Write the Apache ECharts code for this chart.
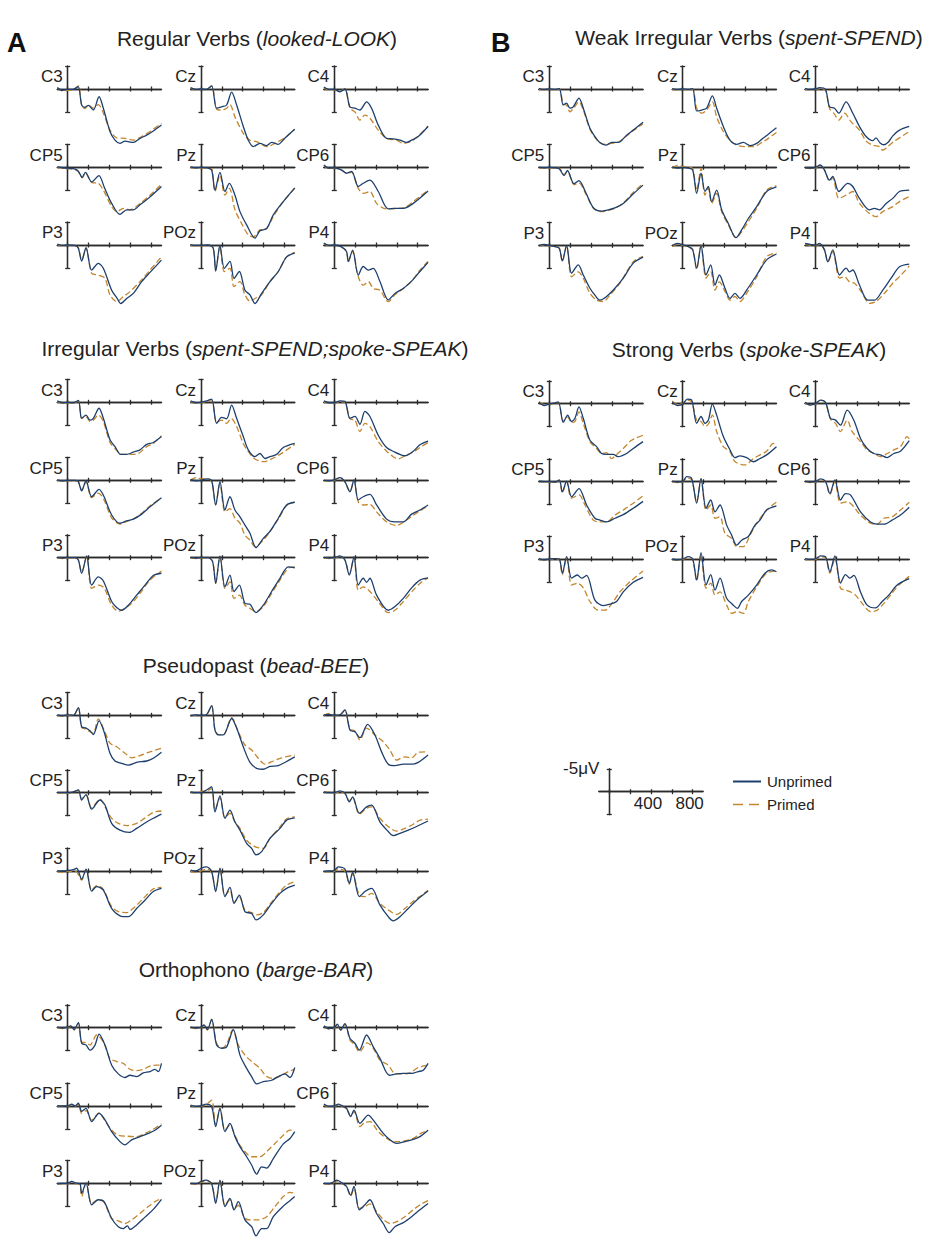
<!DOCTYPE html>
<html><head><meta charset="utf-8">
<script src="https://cdn.jsdelivr.net/npm/echarts@6/dist/echarts.min.js"></script>
<style>html,body{margin:0;padding:0;background:#fff}#chart{width:932px;height:1237px}</style>
</head><body><div id="chart"></div>
<script>
// ---------- tick labels / categories ----------
var TIME_TICKS = [0, 200, 400, 600, 800];
var SCALE_TIME_LABELS = [400, 800];
var SCALE_VOLT_LABELS = [-5];
var VOLT_TICKS = [-5, 5];
var ELECTRODES = ['C3', 'Cz', 'C4', 'CP5', 'Pz', 'CP6', 'P3', 'POz', 'P4'];
var CONDITIONS = ['Unprimed', 'Primed'];
var PANEL_KEYS = ['reg', 'weak', 'irr', 'str', 'ps', 'or'];
var PANEL_TITLES = [
  ['Regular Verbs (', 'looked-LOOK', ')'],
  ['Weak Irregular Verbs (', 'spent-SPEND', ')'],
  ['Irregular Verbs (', 'spent-SPEND;spoke-SPEAK', ')'],
  ['Strong Verbs (', 'spoke-SPEAK', ')'],
  ['Pseudopast (', 'bead-BEE', ')'],
  ['Orthophono (', 'barge-BAR', ')']
];

// ---------- waveform data: [ms, µV] ----------
var reg_C3_u=[[-100,-0.3],[-50,0.3],[0,0.1],[50,0.1],[100,-0.5],[134,3.5],[166,4.0],[198,3.6],[246,4.6],[301,1.7],[342,4.2],[406,9.3],[454,11.2],[502,11.9],[550,11.4],[630,11.7],[694,10.8],[758,10.1],[822,9.2],[900,7.9]];
var reg_C3_p=[[-100,-0.2],[-50,0.4],[0,0.3],[50,0.2],[102,-0.7],[134,3.5],[166,4.3],[198,3.5],[246,4.2],[294,3.4],[342,5.3],[406,9.0],[470,10.7],[550,10.8],[630,11.2],[710,10.4],[790,9.3],[900,7.5]];
var reg_Cz_u=[[-100,-0.3],[-50,0.1],[0,0],[50,0.1],[102,-0.7],[150,4.2],[198,3.9],[246,3.5],[294,0.7],[342,3.5],[406,8.2],[454,11.2],[502,12.6],[566,11.9],[630,12.4],[678,11.7],[742,12.1],[806,10.7],[900,8.8]];
var reg_Cz_p=[[-100,-0.2],[-50,0.2],[0,0.1],[50,0.2],[102,-0.7],[150,4.4],[198,4.6],[246,4.2],[278,3.4],[326,6.1],[406,9.7],[470,11.2],[534,11.5],[630,12.6],[726,11.7],[822,10.4],[900,8.8]];
var reg_C4_u=[[-100,-0.4],[-50,0.1],[0,0.1],[54,0.6],[102,0],[150,3.9],[198,4.2],[246,4.6],[310,2.8],[358,4.2],[422,7.9],[502,10.8],[566,10.9],[630,11.2],[694,11.7],[742,11.2],[806,10.4],[900,8.2]];
var reg_C4_p=[[-100,-0.2],[-50,0.2],[0,0.2],[54,0.5],[102,-0.1],[150,4.2],[198,5.0],[246,6.8],[294,5.7],[342,6.4],[422,9.0],[502,10.8],[598,11.2],[662,11.9],[758,11.2],[900,8.1]];
var reg_CP5_u=[[-100,-0.1],[-50,0.1],[0,0.2],[70,0.4],[100,0.8],[140,2.2],[170,1.1],[230,3.2],[300,1.8],[350,4.3],[422,7.9],[502,10.3],[566,9.3],[630,9.3],[694,8.2],[774,6.8],[900,4.2]];
var reg_CP5_p=[[-100,0],[-50,0.2],[0,0.3],[70,0.5],[100,0.9],[140,2.3],[170,1.2],[230,3.3],[294,3.5],[342,5.0],[422,8.6],[470,9.7],[534,9.0],[598,9.3],[694,7.9],[790,6.1],[900,3.7]];
var reg_Pz_u=[[-100,-0.1],[-50,0.1],[0,0],[60,0.1],[102,0.6],[134,5.0],[182,1.1],[230,5.3],[272,3.5],[326,6.1],[374,9.7],[438,12.6],[518,15.5],[566,13.9],[630,13.4],[694,10.4],[790,7.5],[900,4.5]];
var reg_Pz_p=[[-100,0],[-50,0.2],[0,0.1],[60,0.2],[102,0.3],[134,5.3],[182,1.7],[230,6.1],[272,4.6],[326,9.3],[390,12.3],[454,14.8],[502,15.2],[566,13.7],[630,13.4],[694,10.8],[790,7.5],[900,4.6]];
var reg_CP6_u=[[-100,-0.5],[-50,0.2],[0,0.1],[70,0.6],[118,1.3],[166,0.9],[230,4.2],[278,3.5],[342,2.8],[422,5.3],[518,9.1],[582,9.0],[662,9.0],[758,7.9],[900,5.2]];
var reg_CP6_p=[[-100,-0.4],[-50,0.3],[0,0.2],[70,0.6],[118,1.3],[166,1.1],[230,4.6],[278,5.7],[342,5.3],[406,7.9],[502,9.1],[598,9.0],[678,8.8],[758,7.5],[900,5.0]];
var reg_P3_u=[[-100,-0.2],[-50,0.1],[0,0],[70,0.1],[102,0.7],[134,3.5],[176,0.6],[230,5.5],[294,4.0],[342,5.1],[422,9.9],[470,11.5],[509,12.8],[566,11.7],[630,10.6],[710,8.0],[790,6.0],[900,3.3]];
var reg_P3_p=[[-100,-0.1],[-50,0.2],[0,0.1],[70,0.2],[102,0.6],[134,3.3],[176,0.7],[230,6.2],[294,6.6],[358,7.3],[406,10.9],[470,12.4],[534,11.3],[598,10.2],[694,8.0],[790,5.5],[900,2.6]];
var reg_POz_u=[[-100,-0.1],[-50,0.1],[0,0.1],[70,0],[118,0.7],[141,5.7],[182,0.1],[224,5.1],[278,3.6],[317,7.3],[368,5.8],[422,9.9],[470,10.9],[518,12.8],[582,10.6],[662,8.0],[742,5.8],[822,2.6],[900,1.8]];
var reg_POz_p=[[-100,0],[-50,0.2],[0,0.2],[70,0.1],[118,0.7],[141,5.5],[182,0.4],[224,5.8],[278,5.1],[317,9.1],[374,8.0],[422,10.9],[470,12.3],[518,11.7],[582,10.9],[662,8.0],[742,5.8],[822,2.6],[900,1.6]];
var reg_P4_u=[[-100,-0.4],[-50,0.1],[0,0],[70,0.4],[118,1.5],[134,3.6],[176,1.1],[230,6.6],[278,4.7],[326,5.5],[374,5.1],[438,8.0],[518,12.0],[582,10.6],[662,9.5],[742,7.9],[822,5.8],[900,3.8]];
var reg_P4_p=[[-100,-0.3],[-50,0.2],[0,0.1],[70,0.5],[118,1.5],[134,3.7],[176,1.4],[230,6.9],[278,8.8],[326,8.0],[374,9.5],[438,9.9],[518,12.4],[582,10.9],[662,9.5],[742,7.9],[822,5.5],[900,3.6]];

var weak_C3_u=[[-100,-0.1],[-50,0.1],[0,0],[54,0.1],[96,-0.1],[134,3.5],[166,3.1],[198,4.2],[230,3.9],[285,2.0],[326,4.2],[390,8.6],[438,10.4],[486,11.7],[544,12.3],[598,11.7],[662,11.7],[742,10.1],[806,9.0],[900,7.3]];
var weak_C3_p=[[-100,0],[-50,0.2],[0,0.1],[54,0.2],[96,0],[134,3.3],[166,3.5],[198,5.0],[230,4.3],[285,2.8],[326,4.6],[390,8.8],[438,10.6],[486,11.8],[544,12.1],[598,11.9],[662,11.6],[742,10.3],[806,9.1],[900,7.6]];
var weak_Cz_u=[[-100,-0.1],[-50,0.1],[0,0],[54,0.1],[96,-0.1],[134,4.8],[182,4.6],[230,4.2],[285,1.5],[326,4.2],[390,8.2],[454,11.2],[518,12.1],[582,11.7],[646,12.4],[710,11.9],[774,10.7],[822,9.9],[900,8.5]];
var weak_Cz_p=[[-100,0],[-50,0.2],[0,0.1],[54,0.2],[96,0.1],[134,4.2],[182,5.3],[230,4.6],[285,2.8],[326,6.1],[390,9.3],[454,11.2],[518,12.3],[598,12.6],[678,12.6],[774,11.5],[822,10.8],[900,9.5]];
var weak_C4_u=[[-100,-0.1],[-50,0.1],[0,0],[38,-0.3],[96,0.1],[134,3.9],[182,4.2],[224,5.3],[294,2.8],[358,5.3],[422,8.2],[486,10.4],[550,11.3],[580,10.7],[620,11.8],[655,12.2],[700,11.6],[740,10.3],[806,9.0],[900,8.2]];
var weak_C4_p=[[-100,0],[-50,0.2],[0,0.1],[38,-0.1],[96,0.3],[134,4.2],[182,5.5],[224,6.8],[278,5.3],[342,7.2],[422,9.0],[486,11.4],[550,12.3],[614,12.6],[646,13.4],[694,12.6],[758,11.4],[900,9.3]];
var weak_CP5_u=[[-100,0],[-50,0.1],[0,0],[50,0.1],[95,0.3],[142,1.8],[174,0.7],[237,3.6],[284,2.9],[350,5.5],[425,8.9],[504,9.6],[550,9.4],[630,8.9],[710,7.9],[806,5.8],[900,3.9]];
var weak_CP5_p=[[-100,0.1],[-50,0.2],[0,0.1],[50,0.2],[95,0.2],[142,1.6],[174,0.9],[237,3.8],[284,3.4],[350,5.8],[425,9.0],[504,9.7],[550,9.5],[630,9.0],[710,7.8],[806,5.5],[900,3.6]];
var weak_Pz_u=[[-100,-0.1],[-50,0.2],[0,0],[54,0.2],[96,0.6],[134,5.7],[176,1.3],[214,5.3],[246,4.2],[278,7.5],[326,5.0],[374,9.3],[438,12.3],[512,15.4],[566,13.7],[630,11.2],[710,8.6],[806,5.3],[900,4.3]];
var weak_Pz_p=[[-100,0.2],[-50,-0.4],[0,-0.2],[54,0],[96,0.3],[134,5.0],[176,0.2],[214,6.1],[246,4.6],[278,7.9],[326,5.7],[374,9.7],[438,12.6],[512,15.4],[566,14.1],[630,11.9],[710,9.0],[806,5.0],[900,4.0]];
var weak_CP6_u=[[-100,0.1],[-50,0.2],[0,0],[45,-0.5],[86,0.6],[134,2.8],[166,2.0],[224,5.3],[310,3.5],[358,4.2],[422,6.8],[518,9.3],[566,9.0],[614,9.3],[678,7.9],[742,6.8],[806,5.3],[900,5.0]];
var weak_CP6_p=[[-100,0.2],[-50,0.3],[0,0.1],[45,-0.4],[86,0.5],[134,3.0],[166,2.3],[224,6.8],[294,6.1],[358,5.3],[422,7.9],[518,10.1],[582,10.8],[646,9.7],[742,8.6],[806,7.5],[900,6.4]];
var weak_P3_u=[[-100,0.1],[-50,-0.2],[0,0],[54,0.3],[96,0.7],[125,3.4],[166,0],[214,6.1],[278,4.3],[326,6.5],[390,9.4],[438,10.9],[486,12.0],[550,11.2],[630,9.4],[710,7.2],[806,3.9],[900,2.6]];
var weak_P3_p=[[-100,0.2],[-50,-0.1],[0,0.1],[54,0.3],[96,0.6],[125,3.5],[166,0.1],[214,6.9],[278,5.8],[326,7.2],[390,10.5],[454,12.0],[518,12.3],[582,10.9],[678,8.3],[806,3.6],[900,2.4]];
var weak_POz_u=[[-100,0.1],[-50,-0.4],[0,-0.1],[54,0.3],[96,1.0],[134,5.0],[176,0.1],[224,6.5],[269,4.3],[310,8.7],[352,6.5],[406,9.4],[454,11.6],[502,10.5],[550,11.6],[614,9.8],[710,6.5],[806,3.2],[900,1.9]];
var weak_POz_p=[[-100,0.3],[-50,-0.2],[0,0],[54,0.3],[96,0.8],[134,5.3],[176,0.1],[224,7.2],[269,5.8],[310,9.8],[352,8.0],[406,10.1],[454,12.0],[502,11.2],[550,12.3],[614,10.5],[710,6.9],[806,2.5],[900,1.6]];
var weak_P4_u=[[-100,-0.4],[-50,-0.2],[0,0],[38,-0.4],[86,1.0],[118,3.6],[166,1.0],[230,6.5],[294,5.0],[326,5.8],[358,5.4],[422,8.7],[502,12.0],[566,12.0],[646,9.8],[726,7.2],[806,4.7],[900,4.1]];
var weak_P4_p=[[-100,-0.2],[-50,0],[0,0.1],[38,-0.2],[86,1.0],[118,3.7],[166,1.4],[230,7.2],[278,6.9],[326,8.0],[374,8.3],[438,10.1],[518,12.7],[582,12.3],[662,10.5],[742,8.3],[822,6.5],[900,4.5]];

var irr_C3_u=[[-100,-0.3],[-50,0.1],[0,0],[54,0.1],[102,-0.4],[134,3.5],[176,2.8],[214,3.9],[246,3.5],[301,1.3],[342,3.5],[406,8.2],[454,9.7],[509,11.4],[566,11.4],[630,10.9],[694,10.4],[758,9.2],[822,8.8],[900,7.5]];
var irr_C3_p=[[-100,-0.1],[-50,0.2],[0,0.1],[54,0.2],[102,-0.3],[134,3.5],[176,3.1],[214,4.2],[246,3.9],[294,2.8],[342,4.2],[406,8.8],[454,10.1],[518,11.4],[598,11.4],[678,11.2],[758,9.7],[822,9.0],[900,7.3]];
var irr_Cz_u=[[-100,-0.3],[-50,0.1],[0,0],[54,-0.3],[102,-0.7],[150,4.6],[198,3.3],[246,3.6],[294,0.6],[342,3.5],[406,7.5],[454,10.4],[518,11.9],[566,11.2],[614,12.3],[662,11.9],[726,11.4],[790,9.9],[900,9.0]];
var irr_Cz_p=[[-100,-0.1],[-50,0.2],[0,0.1],[54,-0.2],[102,-0.3],[150,4.4],[198,3.9],[246,4.6],[288,3.5],[342,5.3],[406,9.0],[454,10.8],[518,12.4],[598,13.0],[678,12.4],[758,11.4],[900,9.2]];
var irr_C4_u=[[-100,-0.3],[-50,0.1],[0,0.1],[54,-0.3],[102,-0.2],[150,3.5],[198,3.1],[246,4.8],[294,2.0],[342,3.1],[422,7.2],[502,9.9],[582,10.9],[630,11.4],[678,11.7],[758,10.7],[822,9.3],[900,8.5]];
var irr_C4_p=[[-100,-0.1],[-50,0.2],[0,0.2],[54,-0.1],[102,0],[150,3.6],[198,3.9],[246,6.4],[294,4.6],[342,5.3],[422,8.6],[502,10.7],[566,11.9],[614,12.4],[678,11.7],[758,10.9],[822,9.9],[900,8.8]];
var irr_CP5_u=[[-100,-0.1],[-50,0.1],[0,0],[70,0],[102,0.3],[134,2.3],[176,0.1],[230,3.6],[301,2.0],[349,3.6],[422,7.6],[502,9.4],[566,8.9],[630,8.5],[710,7.4],[790,5.8],[900,3.8]];
var irr_CP5_p=[[-100,0],[-50,0.2],[0,0.1],[70,0.1],[102,0.3],[134,2.1],[176,0.4],[230,3.8],[294,2.8],[349,4.3],[422,8.2],[502,9.6],[566,9.0],[630,8.5],[710,7.2],[790,5.6],[900,3.8]];
var irr_Pz_u=[[-100,-0.2],[-50,0.1],[0,0],[54,-0.3],[102,0.1],[141,5.4],[182,0.3],[230,6.5],[278,3.6],[326,6.5],[374,8.0],[422,9.8],[470,11.6],[528,14.7],[598,12.7],[662,11.2],[742,8.3],[822,5.4],[900,4.8]];
var irr_Pz_p=[[-100,0],[-50,-0.6],[0,-0.3],[54,-0.4],[102,0.2],[141,5.3],[182,0.7],[230,6.9],[278,6.2],[326,8.3],[374,9.4],[422,12.0],[470,13.1],[518,14.5],[598,13.1],[662,11.2],[742,8.5],[822,5.5],[900,4.8]];
var irr_CP6_u=[[-100,0],[-50,0.1],[0,-0.1],[54,-0.6],[102,0.3],[150,2.5],[189,-0.1],[230,4.3],[278,3.6],[342,3.1],[406,5.4],[502,8.5],[582,9.1],[662,9.1],[742,7.4],[822,6.5],[900,5.4]];
var irr_CP6_p=[[-100,0.1],[-50,0.2],[0,0],[54,-0.5],[102,0.4],[150,2.5],[189,0.1],[230,4.7],[278,5.4],[342,5.3],[406,6.9],[502,9.1],[598,9.9],[662,9.2],[742,7.9],[822,6.7],[900,5.6]];
var irr_P3_u=[[-100,0],[-50,0.1],[0,0],[70,0],[102,0.5],[134,3.4],[182,-0.4],[230,6.0],[294,4.2],[342,5.1],[422,9.6],[470,10.9],[518,11.5],[582,10.4],[662,8.2],[742,6.0],[822,3.9],[900,3.4]];
var irr_P3_p=[[-100,0.1],[-50,0.2],[0,0.1],[70,0.1],[102,0.5],[134,3.2],[182,-0.2],[230,6.7],[294,6.0],[349,6.6],[422,10.4],[486,11.7],[550,11.1],[614,10.0],[694,7.8],[790,4.9],[900,2.9]];
var irr_POz_u=[[-100,0],[-50,0.1],[0,0],[70,0],[112,0.9],[141,5.6],[182,-0.4],[230,6.4],[278,3.8],[317,7.4],[368,6.0],[422,10.0],[470,10.2],[528,12.0],[598,10.4],[678,7.4],[758,4.5],[838,2.0],[900,2.2]];
var irr_POz_p=[[-100,0.1],[-50,0.2],[0,0.1],[70,0.1],[112,0.8],[141,5.6],[182,-0.2],[230,6.7],[278,5.3],[317,8.9],[368,8.2],[422,10.4],[470,11.1],[528,11.8],[598,10.7],[678,7.8],[758,4.9],[838,2.3],[900,2.0]];
var irr_P4_u=[[-100,0],[-50,0.1],[0,0],[54,-0.4],[102,0.5],[144,3.8],[189,-0.2],[230,6.0],[278,4.5],[310,5.4],[342,4.5],[406,8.2],[518,11.5],[582,10.7],[662,8.9],[742,6.6],[822,4.9],[900,4.4]];
var irr_P4_p=[[-100,0.1],[-50,0.2],[0,0.1],[54,-0.3],[102,0.5],[144,3.6],[189,0],[230,7.1],[278,6.4],[342,7.4],[422,9.6],[518,12.0],[582,11.5],[662,9.6],[758,7.1],[838,5.3],[900,4.5]];

var str_C3_u=[[-100,-0.3],[-50,0.4],[0,0.1],[40,-0.1],[86,-0.4],[134,4.1],[176,2.5],[214,3.9],[246,3.2],[285,0.7],[326,3.2],[390,8.0],[454,9.4],[502,10.9],[550,11.1],[614,11.1],[662,11.6],[742,10.9],[806,9.8],[900,8.3]];
var str_C3_p=[[-100,-0.5],[-50,0.2],[0,0.1],[40,0],[86,-0.3],[134,3.8],[176,2.9],[214,4.1],[246,3.9],[285,1.8],[326,4.3],[390,8.3],[454,9.8],[502,10.9],[550,10.7],[598,12.0],[646,11.1],[710,9.8],[790,8.0],[900,6.9]];
var str_Cz_u=[[-100,-0.4],[-50,0.4],[0,0.1],[45,-1.0],[86,-0.8],[134,4.3],[176,2.8],[214,4.3],[246,3.6],[285,0.1],[326,2.5],[390,7.2],[454,10.1],[502,11.8],[550,11.4],[614,11.8],[678,12.7],[742,12.0],[806,11.2],[900,9.4]];
var str_Cz_p=[[-100,-0.6],[-50,0.2],[0,0],[45,-0.8],[86,-0.4],[134,3.6],[176,3.9],[214,5.0],[246,4.5],[285,2.5],[326,6.1],[390,9.4],[454,10.5],[502,12.7],[598,13.4],[678,12.0],[742,11.2],[806,10.4],[870,8.7],[900,9.2]];
var str_C4_u=[[-100,-0.3],[-50,0.3],[0,0],[48,-0.8],[96,-0.3],[144,3.2],[192,3.6],[240,4.7],[304,1.4],[368,3.6],[432,7.6],[496,9.8],[560,10.9],[624,11.2],[688,11.8],[752,10.9],[816,10.4],[900,8.1]];
var str_C4_p=[[-100,-0.1],[-50,0.3],[0,0.1],[48,-0.8],[96,-0.2],[144,3.4],[192,4.3],[240,6.1],[304,3.6],[352,6.1],[432,8.3],[496,10.1],[560,10.9],[624,11.6],[688,10.9],[752,10.1],[816,9.4],[880,7.2],[900,7.7]];
var str_CP5_u=[[-100,-0.1],[-50,0],[0,0],[54,0.1],[96,-0.4],[125,2.2],[166,-0.1],[214,3.3],[285,1.5],[358,5.1],[438,8.0],[486,8.4],[550,8.8],[630,8.0],[710,7.2],[806,5.8],[900,4.3]];
var str_CP5_p=[[-100,0],[-50,0.1],[0,0.1],[54,0.1],[96,-0.3],[125,2.5],[166,0],[214,3.6],[285,2.9],[342,5.1],[422,8.4],[486,8.8],[550,8.8],[630,7.3],[710,6.2],[806,4.7],[900,3.1]];
var str_Pz_u=[[-100,-0.1],[-50,0.1],[0,0],[38,-1.1],[86,-0.7],[134,4.7],[176,-0.7],[224,5.8],[269,4.0],[310,6.6],[358,5.1],[422,9.5],[470,11.7],[518,13.9],[566,12.8],[630,12.0],[694,9.5],[742,8.4],[806,6.2],[900,5.3]];
var str_Pz_p=[[-100,0.1],[-50,0.2],[0,0.1],[38,-0.8],[86,-0.4],[134,4.4],[176,-0.4],[224,6.2],[269,5.1],[310,8.0],[358,7.7],[406,11.3],[470,12.4],[518,14.2],[582,14.2],[646,11.7],[710,9.1],[806,6.2],[900,4.5]];
var str_CP6_u=[[-100,-0.1],[-50,0.1],[0,0],[48,-0.6],[96,-0.1],[138,2.6],[186,-0.4],[240,4.0],[288,2.6],[336,2.9],[432,6.6],[528,8.8],[592,9.3],[656,9.3],[736,8.4],[816,7.3],[900,5.6]];
var str_CP6_p=[[-100,0],[-50,0.2],[0,0.1],[48,-0.5],[96,0],[138,2.8],[186,0],[240,4.7],[304,4.4],[352,5.1],[432,7.3],[528,9.1],[592,9.3],[656,8.0],[736,7.7],[816,6.2],[900,4.5]];
var str_P3_u=[[-100,-0.1],[-50,0.2],[0,0],[54,-0.1],[96,0],[125,3.1],[166,-0.5],[214,4.2],[269,3.5],[310,4.2],[358,3.6],[438,9.0],[518,10.2],[582,9.9],[646,9.3],[710,7.2],[806,5.1],[900,4.0]];
var str_P3_p=[[-100,0],[-50,0.3],[0,0.1],[54,0],[96,0.1],[125,3.4],[166,-0.3],[214,5.7],[269,5.3],[326,6.3],[390,9.3],[470,11.2],[534,11.2],[614,9.3],[678,7.2],[774,5.0],[900,2.6]];
var str_POz_u=[[-100,0],[-50,0.2],[0,0],[54,-0.5],[96,0],[134,4.6],[176,-1.4],[224,5.7],[269,3.4],[310,6.8],[358,4.2],[422,8.6],[486,10.1],[525,10.8],[566,9.3],[630,7.9],[710,5.7],[790,3.1],[854,2.4],[900,2.8]];
var str_POz_p=[[-100,0.1],[-50,0.3],[0,0.1],[54,-0.3],[96,0.1],[134,4.8],[176,-0.9],[224,6.4],[269,5.3],[310,7.9],[358,7.2],[422,10.1],[470,11.9],[525,11.5],[582,11.9],[630,9.3],[710,6.1],[806,3.1],[900,2.6]];
var str_P4_u=[[-100,-0.1],[-50,0.1],[0,0],[48,-0.7],[96,-0.5],[138,2.8],[186,-0.7],[240,5.3],[288,3.4],[330,4.2],[368,3.6],[432,7.2],[496,10.1],[576,10.7],[640,9.3],[704,7.9],[784,5.7],[900,4.3]];
var str_P4_p=[[-100,0],[-50,0.2],[0,0.1],[48,-0.5],[96,-0.3],[138,3.1],[186,-0.1],[240,6.4],[288,6.8],[336,7.2],[384,7.9],[448,9.7],[528,11.5],[592,11.2],[656,9.7],[720,7.9],[800,5.7],[900,3.8]];

var ps_C3_u=[[-100,-0.1],[-50,0.1],[0,-0.1],[54,0],[102,-1.7],[134,2.5],[176,2.8],[214,3.4],[246,4.2],[301,1.2],[349,3.6],[406,8.3],[454,10.0],[518,10.5],[582,10.9],[662,10.3],[758,10.0],[822,9.4],[900,8.1]];
var ps_C3_p=[[-100,0],[-50,0.2],[0,0],[54,0.1],[102,-1.7],[134,2.7],[176,3.0],[214,3.6],[246,3.9],[294,0.8],[349,3.2],[406,6.1],[470,6.9],[550,8.3],[614,9.3],[694,8.8],[774,8.1],[900,7.2]];
var ps_Cz_u=[[-100,0.1],[-50,-0.1],[0,0],[54,-0.2],[102,-2.1],[134,3.2],[166,4.3],[214,4.3],[294,0.7],[342,2.8],[406,6.9],[470,10.3],[534,11.6],[598,11.8],[662,11.2],[742,11.0],[822,10.1],[900,9.1]];
var ps_Cz_p=[[-100,0],[-50,0],[0,0.1],[54,-0.1],[102,-2.1],[134,3.2],[166,4.2],[214,4.3],[294,0.5],[358,3.6],[422,6.5],[486,7.6],[550,9.4],[614,10.7],[694,10.0],[774,9.3],[900,8.7]];
var ps_C4_u=[[-100,-0.1],[-50,-0.2],[0,0],[54,-0.1],[102,-1.2],[150,3.2],[198,3.6],[246,4.9],[320,2.0],[390,4.3],[454,8.0],[518,10.7],[582,11.0],[662,10.7],[742,10.7],[806,10.3],[900,8.7]];
var ps_C4_p=[[-100,0],[-50,-0.4],[0,0.1],[54,0],[102,-1.2],[150,3.0],[198,3.4],[246,5.4],[310,2.8],[390,4.3],[470,5.8],[534,7.6],[598,9.8],[678,9.1],[742,9.3],[806,8.1],[900,8.0]];
var ps_CP5_u=[[-100,0],[-50,0],[0,0],[54,-0.2],[102,-0.6],[134,1.6],[176,0.4],[230,3.6],[310,1.6],[358,2.7],[422,6.7],[502,8.2],[592,8.7],[662,7.8],[758,6.4],[822,5.6],[900,4.7]];
var ps_CP5_p=[[-100,0.1],[-50,0.1],[0,0.1],[54,-0.1],[102,-0.5],[134,1.3],[176,0.5],[230,3.3],[310,1.4],[358,3.1],[422,5.6],[486,6.7],[566,7.2],[662,6.7],[742,5.5],[822,4.3],[900,4.0]];
var ps_Pz_u=[[-100,-0.2],[-50,0],[0,0],[54,-0.6],[102,-1.3],[134,4.2],[182,0.7],[230,5.6],[278,3.8],[326,6.4],[374,8.2],[438,11.1],[486,12.2],[528,13.6],[582,12.9],[662,10.0],[758,7.8],[822,6.0],[900,5.5]];
var ps_Pz_p=[[-100,-0.1],[-50,0.1],[0,-0.3],[54,-0.4],[102,-0.9],[134,3.8],[182,1.1],[230,5.5],[278,4.5],[326,6.4],[374,7.8],[438,10.4],[518,11.8],[598,12.2],[662,10.0],[758,7.5],[822,5.7],[900,5.3]];
var ps_CP6_u=[[-100,-0.2],[-50,0],[0,0],[54,-0.4],[102,0.1],[144,2.0],[176,0.9],[240,4.5],[310,3.1],[358,2.7],[438,6.4],[518,8.5],[566,9.4],[630,8.9],[710,8.2],[790,7.4],[900,6.2]];
var ps_CP6_p=[[-100,0],[-50,-0.2],[0,0.1],[54,-0.2],[102,0.2],[144,1.8],[176,1.1],[240,4.7],[310,3.4],[358,3.1],[438,5.6],[518,7.4],[598,8.4],[678,7.8],[758,6.9],[822,6.0],[900,5.8]];
var ps_P3_u=[[-100,0],[-50,0],[0,-0.1],[54,-0.3],[86,-0.6],[134,1.8],[176,-0.4],[230,4.4],[278,3.4],[342,4.2],[422,8.2],[502,9.8],[582,10.0],[662,8.2],[742,6.4],[822,4.5],[900,3.8]];
var ps_P3_p=[[-100,0.1],[-50,0.3],[0,0.1],[54,0],[86,0.2],[134,2.0],[176,-0.2],[230,4.2],[278,3.2],[342,4.0],[422,7.8],[486,8.9],[566,9.1],[646,7.8],[726,6.0],[822,3.9],[900,3.6]];
var ps_POz_u=[[-100,-0.2],[-50,0],[0,-0.6],[54,-0.9],[102,0.1],[141,4.5],[182,-0.6],[230,5.6],[278,3.6],[317,7.1],[368,5.3],[422,8.9],[486,9.3],[528,10.7],[598,9.6],[678,7.1],[758,4.9],[822,3.8],[900,3.1]];
var ps_POz_p=[[-100,0.1],[-50,0.3],[0,0],[54,-0.4],[102,0.3],[141,4.2],[182,-0.4],[230,5.4],[278,4.2],[317,6.8],[368,5.7],[422,8.5],[486,9.1],[534,9.6],[598,9.1],[678,6.8],[758,4.5],[822,3.1],[900,2.3]];
var ps_P4_u=[[-100,0.1],[-50,0],[0,-0.1],[38,-0.9],[102,-0.4],[144,2.7],[176,0.3],[240,5.6],[294,4.5],[358,3.8],[438,7.4],[518,10.0],[566,10.9],[630,10.0],[710,8.2],[790,6.4],[900,4.4]];
var ps_P4_p=[[-100,0.2],[-50,0.2],[0,0.1],[38,-0.5],[102,0],[144,2.9],[176,0.5],[240,5.3],[294,5.6],[358,4.9],[438,7.1],[518,8.5],[598,9.5],[678,8.2],[758,6.6],[838,5.3],[900,4.2]];

var or_C3_u=[[-100,-0.1],[-50,0.1],[0,-0.1],[29,-0.4],[61,0.4],[102,-1.1],[134,3.4],[176,3.8],[214,4.9],[262,3.8],[301,1.4],[358,3.8],[422,8.2],[486,10.1],[550,10.9],[598,10.4],[662,10.7],[726,9.9],[790,9.6],[838,9.1],[870,9.6],[900,7.8]];
var or_C3_p=[[-100,0],[-50,0.2],[0,0],[29,-0.3],[61,0.5],[102,-1.1],[134,3.1],[176,3.3],[214,3.8],[278,1.6],[342,3.1],[406,6.7],[470,7.4],[534,7.8],[598,9.1],[662,9.4],[726,9.1],[790,8.4],[850,8.2],[900,8.2]];
var or_Cz_u=[[-100,-0.1],[-50,0.1],[0,-0.1],[29,-0.6],[61,0.4],[102,-1.8],[150,3.8],[198,4.5],[246,4.2],[310,0.4],[374,6.0],[438,8.9],[486,10.7],[534,12.3],[598,11.8],[678,11.5],[742,10.7],[806,10.1],[854,10.9],[900,8.7]];
var or_Cz_p=[[-100,0],[-50,0.2],[0,0],[29,-0.5],[61,0.5],[102,-1.8],[150,3.4],[198,4.5],[246,3.6],[304,0.5],[358,3.8],[422,6.0],[486,7.4],[566,8.9],[630,10.7],[694,11.1],[774,10.4],[838,9.6],[900,9.1]];
var or_C4_u=[[-100,-0.4],[-50,0.2],[0,0],[29,-0.8],[61,0.5],[102,-0.9],[150,2.3],[198,3.4],[240,4.9],[310,1.6],[374,4.2],[438,6.7],[528,10.4],[598,10.1],[662,10.0],[742,10.0],[806,9.6],[854,9.3],[900,7.8]];
var or_C4_p=[[-100,-0.3],[-50,0.3],[0,0.1],[29,-0.6],[61,0.5],[102,-0.8],[150,2.7],[198,3.8],[240,5.3],[317,3.3],[374,4.5],[438,7.1],[518,8.2],[582,10.0],[662,10.1],[726,9.9],[806,8.7],[900,8.2]];
var or_CP5_u=[[-100,0],[-50,0],[0,0],[38,-0.4],[70,0],[102,-0.6],[134,1.2],[176,0.5],[230,3.4],[301,1.6],[349,2.7],[422,5.6],[502,7.8],[550,8.5],[614,7.4],[694,6.7],[774,6.0],[838,5.3],[900,4.2]];
var or_CP5_p=[[-100,0.1],[-50,0.1],[0,0.1],[38,-0.3],[70,0.1],[102,-0.4],[134,1.6],[176,1.0],[230,3.1],[301,1.5],[349,2.9],[422,5.3],[486,6.4],[566,6.6],[662,6.7],[742,6.0],[822,5.1],[900,3.9]];
var or_Pz_u=[[-100,-0.2],[-50,0.1],[0,0],[48,-0.4],[102,0.1],[141,4.5],[182,0.5],[230,5.6],[278,3.8],[326,6.7],[374,8.9],[438,11.1],[486,12.9],[534,14.9],[582,13.3],[630,13.6],[694,11.5],[790,8.3],[854,7.1],[900,5.6]];
var or_Pz_p=[[-100,-0.1],[-50,0.2],[0,0.1],[48,-0.3],[102,-1.3],[141,4.2],[182,0.5],[230,5.3],[278,4.2],[326,6.4],[374,8.6],[438,10.4],[486,11.1],[566,11.1],[630,10.0],[710,8.2],[790,6.4],[854,5.3],[900,5.3]];
var or_CP6_u=[[-100,-0.4],[-50,0.1],[0,0],[40,-0.4],[86,0.1],[118,0.5],[157,2.3],[189,0.9],[246,3.8],[326,2.0],[374,3.1],[470,6.0],[534,7.4],[598,8.2],[678,7.8],[758,7.3],[822,6.7],[900,5.3]];
var or_CP6_p=[[-100,-0.2],[-50,0.2],[0,0.1],[40,-0.3],[86,0.2],[118,0.6],[157,2.2],[189,1.2],[246,4.5],[294,3.6],[342,3.4],[422,5.6],[518,7.3],[598,7.8],[678,7.6],[758,7.1],[822,6.1],[900,5.3]];
var or_P3_u=[[-100,0.1],[-50,0],[0,0],[38,-0.4],[86,0],[118,0.1],[134,2.2],[176,-0.1],[230,4.7],[294,3.6],[349,4.0],[422,7.7],[486,9.5],[534,9.9],[573,9.3],[598,10.1],[662,9.1],[742,7.4],[822,5.7],[900,3.5]];
var or_P3_p=[[-100,0],[-50,0.1],[0,0.1],[38,-0.3],[86,0.1],[118,0.3],[134,2.9],[176,0],[230,4.4],[294,3.6],[349,4.2],[422,7.7],[486,8.2],[550,8.8],[614,8.0],[694,6.6],[774,5.1],[838,4.0],[900,3.3]];
var or_POz_u=[[-100,0],[-50,0.1],[0,-0.4],[48,-0.7],[102,0.1],[141,4.4],[182,-0.7],[230,5.1],[278,3.3],[317,5.8],[358,4.0],[422,8.0],[486,9.5],[528,11.5],[582,9.9],[630,9.9],[694,7.3],[790,5.0],[854,3.8],[900,2.9]];
var or_POz_p=[[-100,0.1],[-50,0.2],[0,-0.2],[48,-0.6],[102,0.2],[141,4.0],[182,-0.6],[230,4.7],[278,3.6],[317,5.7],[358,4.8],[422,7.7],[486,8.0],[550,8.0],[630,7.3],[710,5.1],[790,2.9],[854,2.0],[900,2.2]];
var or_P4_u=[[-100,0],[-50,0.1],[0,-0.4],[22,-0.7],[86,0.1],[118,0.7],[157,2.6],[189,0.7],[240,5.8],[294,4.7],[342,3.6],[406,6.6],[470,8.8],[528,10.8],[582,9.5],[662,8.6],[742,7.3],[822,5.8],[900,4.4]];
var or_P4_p=[[-100,0.1],[-50,0.2],[0,-0.2],[22,-0.5],[86,0.2],[118,0.8],[157,2.8],[189,1.1],[240,5.5],[294,5.1],[342,4.5],[406,6.2],[470,7.9],[534,8.8],[598,8.4],[678,7.3],[758,5.8],[838,4.5],[900,3.8]];

// ---------- layout (pixels) ----------
var COLS_A = [67.7, 201, 334.3];
var COLS_B = [549.3, 682.7, 815.5];
var PANEL_LAYOUT = [
  {cols: COLS_A, rows: [89, 167.3, 245], tx: 257, ty: 38},
  {cols: COLS_B, rows: [89, 167.3, 245.3], tx: 749, ty: 37.5},
  {cols: COLS_A, rows: [402.3, 480.3, 557.7], tx: 255, ty: 348.5},
  {cols: COLS_B, rows: [403.7, 481.7, 559], tx: 749, ty: 349},
  {cols: COLS_A, rows: [715.3, 792.7, 871], tx: 256, ty: 665},
  {cols: COLS_A, rows: [1027.7, 1106, 1183.3], tx: 256, ty: 969}
];
var PX_PER_MS = 0.10417;
var HALF_H = 22.85;
var T_MIN = -100, T_MAX = 900, V_MIN = -5, V_MAX = 5;
var BLUE = '#1d3f6e', ORANGE = '#c4862c', AXIS = '#2b2b2b', TXT = '#222';
var FONT = '"Liberation Sans", Arial, Helvetica, sans-serif';
var DASH = [6, 3];

var grids = [], xAxes = [], yAxes = [], series = [], graphics = [];

function addPlot(x0, y0) {
  var gi = grids.length;
  grids.push({left: x0 - (0 - T_MIN) * PX_PER_MS, top: y0 - HALF_H, width: (T_MAX - T_MIN) * PX_PER_MS, height: 2 * HALF_H});
  var xi = xAxes.length, yi = yAxes.length;
  var lineStyle = {color: AXIS, width: 1.3};
  var baseX = {gridIndex: gi, type: 'value', min: T_MIN, max: T_MAX, splitLine: {show: false}, axisLabel: {show: false}};
  xAxes.push(Object.assign({}, baseX, {
    position: 'bottom',
    axisLine: {show: true, onZero: true, onZeroAxisIndex: yi, lineStyle: lineStyle},
    axisTick: {show: true, customValues: TIME_TICKS, length: 2.5, lineStyle: lineStyle}
  }));
  xAxes.push(Object.assign({}, baseX, {
    position: 'top',
    axisLine: {show: true, onZero: true, onZeroAxisIndex: yi, lineStyle: lineStyle},
    axisTick: {show: true, customValues: TIME_TICKS, length: 2.5, lineStyle: lineStyle}
  }));
  var baseY = {gridIndex: gi, type: 'value', min: V_MIN, max: V_MAX, inverse: true, splitLine: {show: false}, axisLabel: {show: false}};
  yAxes.push(Object.assign({}, baseY, {
    position: 'left',
    axisLine: {show: true, onZero: true, onZeroAxisIndex: xi, lineStyle: lineStyle},
    axisTick: {show: true, customValues: VOLT_TICKS, length: 2.5, lineStyle: lineStyle}
  }));
  yAxes.push(Object.assign({}, baseY, {
    position: 'right',
    axisLine: {show: true, onZero: true, onZeroAxisIndex: xi, lineStyle: lineStyle},
    axisTick: {show: true, customValues: VOLT_TICKS, length: 2.5, lineStyle: lineStyle}
  }));
  return {xi: xi, yi: yi};
}

function addWave(ax, name, data, color, dashed) {
  series.push({
    type: 'line', name: name, data: data, xAxisIndex: ax.xi, yAxisIndex: ax.yi,
    symbol: 'none', showSymbol: false, smooth: 0.3, clip: false, silent: true,
    lineStyle: {color: color, width: 1.3, type: dashed ? DASH : 'solid'},
    itemStyle: {color: color}, animation: false, z: dashed ? 2 : 3
  });
}

PANEL_KEYS.forEach(function (key, pi) {
  var L = PANEL_LAYOUT[pi];
  var t = PANEL_TITLES[pi];
  graphics.push({
    type: 'text', x: L.tx, y: L.ty, silent: true,
    style: {
      text: '{n|' + t[0] + '}{i|' + t[1] + '}{n|' + t[2] + '}',
      rich: {n: {fontSize: 21, fontFamily: FONT, fill: TXT}, i: {fontSize: 21, fontStyle: 'italic', fontFamily: FONT, fill: TXT}},
      fontSize: 21, fontFamily: FONT, fill: TXT, align: 'center', verticalAlign: 'middle'
    }
  });
  ELECTRODES.forEach(function (el, ei) {
    var x0 = L.cols[ei % 3], y0 = L.rows[Math.floor(ei / 3)];
    var ax = addPlot(x0, y0);
    addWave(ax, CONDITIONS[1], window[key + '_' + el + '_p'], ORANGE, true);
    addWave(ax, CONDITIONS[0], window[key + '_' + el + '_u'], BLUE, false);
    graphics.push({
      type: 'text', x: x0 - 5, y: y0 - 12.3, silent: true,
      style: {text: el, fontSize: 17, fontFamily: FONT, fill: TXT, align: 'right', verticalAlign: 'middle'}
    });
  });
});

// scale bar
var scaleAx = addPlot(609.3, 791.7);

// panel letters
graphics.push({type: 'text', x: 7, y: 29, silent: true, style: {text: 'A', fontSize: 27, fontWeight: 'bold', fontFamily: FONT, fill: '#111', align: 'left', verticalAlign: 'alphabetic'}});
graphics.push({type: 'text', x: 491, y: 29, silent: true, style: {text: 'B', fontSize: 27, fontWeight: 'bold', fontFamily: FONT, fill: '#111', align: 'left', verticalAlign: 'alphabetic'}});

var chart = echarts.init(document.getElementById('chart'), null, {renderer: 'svg'});
chart.setOption({
  animation: false,
  backgroundColor: '#fff',
  textStyle: {fontFamily: FONT},
  grid: grids,
  xAxis: xAxes,
  yAxis: yAxes,
  series: series,
  graphic: graphics,
  legend: {
    data: [
      {name: CONDITIONS[0]},
      {name: CONDITIONS[1], lineStyle: {type: [10, 6], color: ORANGE, width: 1.3}}
    ],
    orient: 'vertical', left: 732, top: 774, padding: 0,
    itemWidth: 28, itemHeight: 12, itemGap: 8, selectedMode: false,
    itemStyle: {opacity: 0},
    textStyle: {fontSize: 15, color: TXT, fontFamily: FONT, padding: [0, 0, 0, 1]}
  }
});

// scale-bar labels placed through the scale bar's own axes
var zeroY = chart.convertToPixel({yAxisIndex: scaleAx.yi}, 0);
SCALE_TIME_LABELS.forEach(function (t) {
  var px = chart.convertToPixel({xAxisIndex: scaleAx.xi}, t);
  graphics.push({type: 'text', x: px - 3, y: zeroY + 12, silent: true,
    style: {text: String(t), fontSize: 17, fontFamily: FONT, fill: TXT, align: 'center', verticalAlign: 'middle'}});
});
var axX = chart.convertToPixel({xAxisIndex: scaleAx.xi}, 0);
SCALE_VOLT_LABELS.forEach(function (v) {
  var py = chart.convertToPixel({yAxisIndex: scaleAx.yi}, v);
  graphics.push({type: 'text', x: axX - 10, y: py, silent: true,
    style: {text: v + '\u03bcV', fontSize: 17, fontFamily: FONT, fill: TXT, align: 'right', verticalAlign: 'middle'}});
});
chart.setOption({graphic: graphics});
</script></body></html>
